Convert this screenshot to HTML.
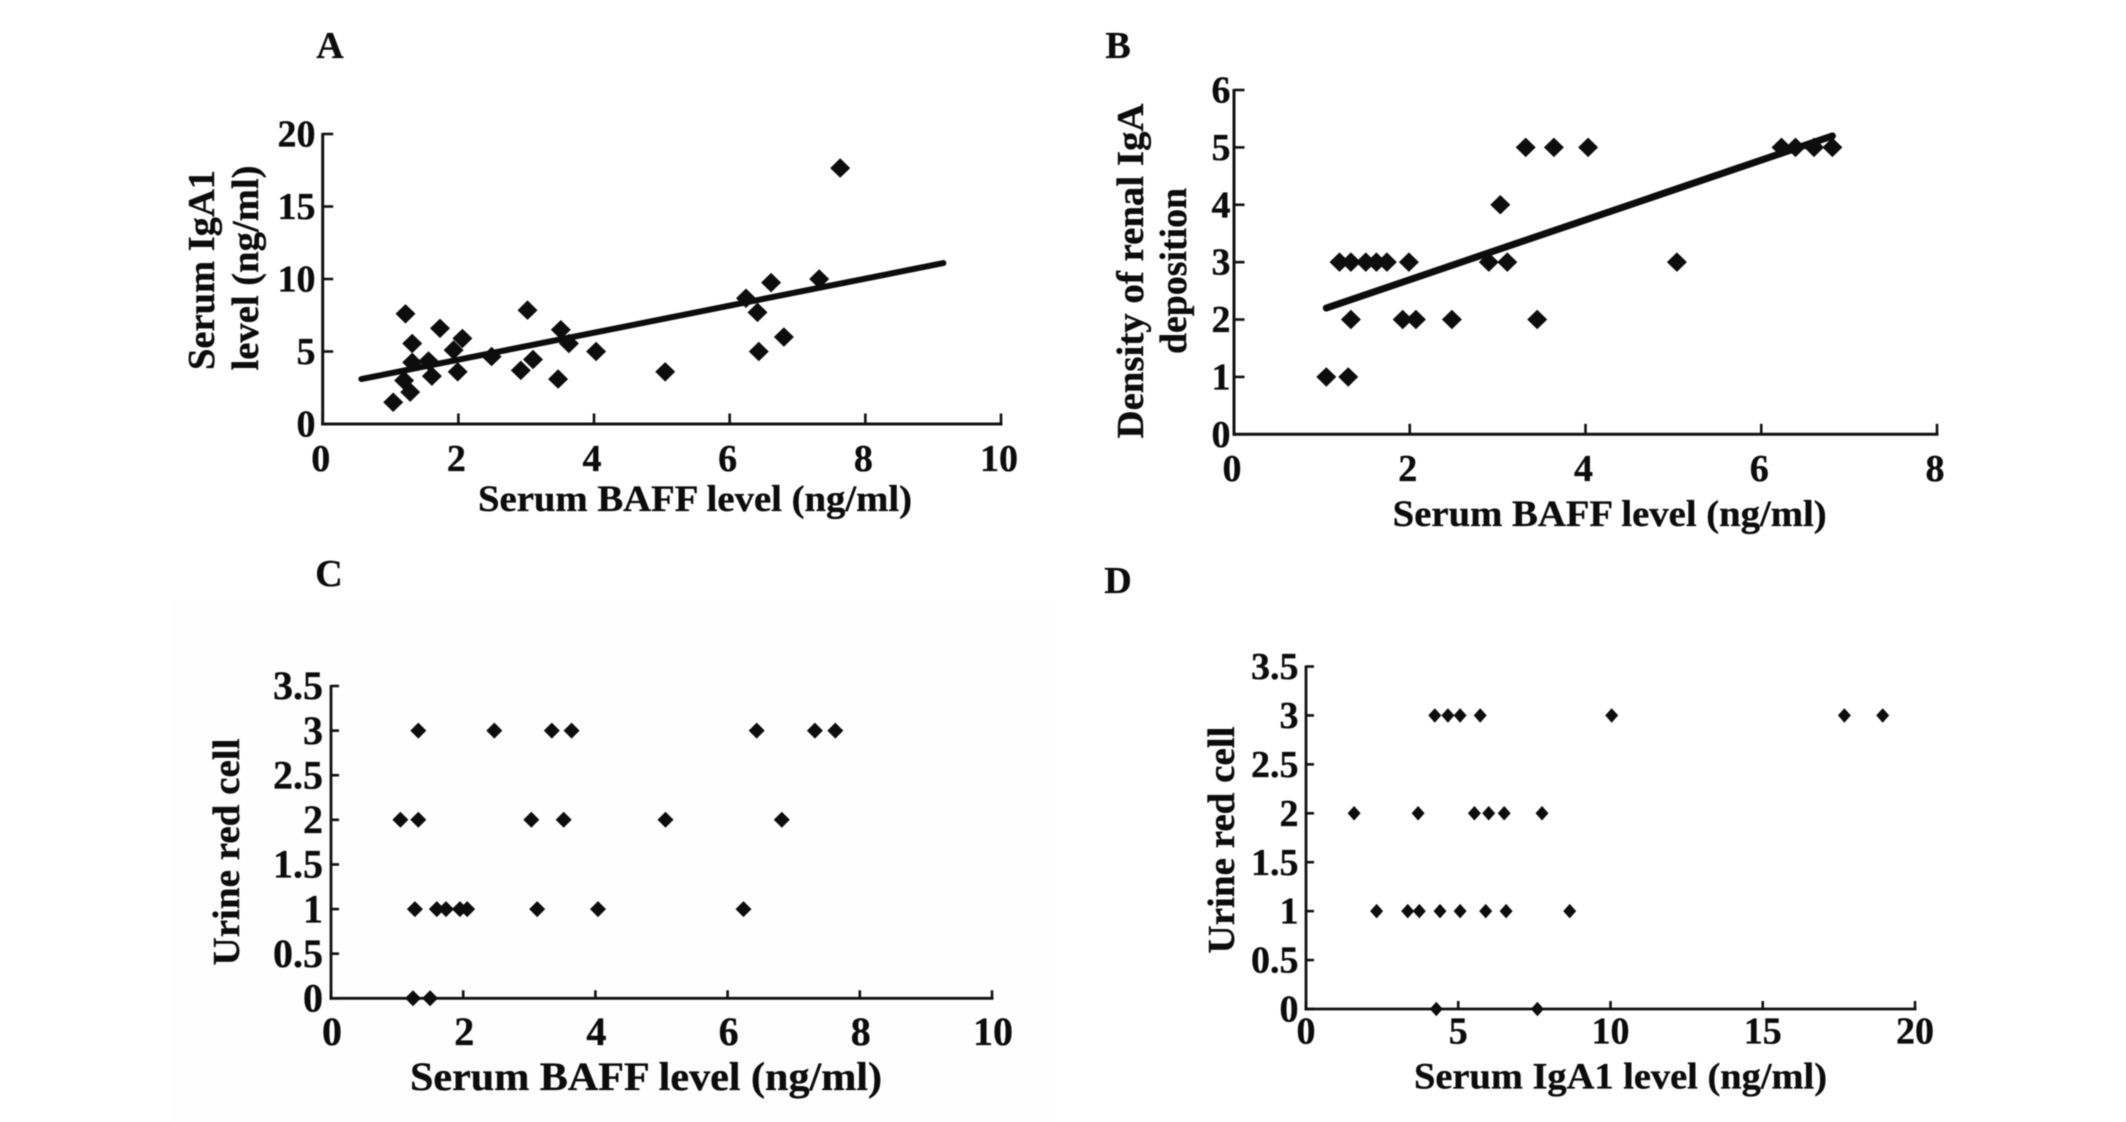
<!DOCTYPE html>
<html lang="en">
<head>
<meta charset="utf-8">
<title>Serum BAFF correlations</title>
<style>
html,body{margin:0;padding:0;background:#fff;}
svg{display:block;filter:blur(0.4px);}
text{font-family:"Liberation Serif",serif;font-weight:bold;fill:#0c0c0c;stroke:#0c0c0c;stroke-width:0.35px;}
</style>
</head>
<body>
<svg id="figure" xmlns="http://www.w3.org/2000/svg" width="2126" height="1122" viewBox="0 0 2126 1122">
  <rect width="2126" height="1122" fill="#ffffff"/>
  <rect x="170" y="600" width="880" height="522" fill="#fefefe"/>

  <text x="330" y="58" font-size="38" text-anchor="middle">A</text>
  <text x="1118" y="58" font-size="38" text-anchor="middle">B</text>
  <text x="329" y="586" font-size="38" text-anchor="middle">C</text>
  <text x="1118" y="593" font-size="38" text-anchor="middle">D</text>

  <text x="478" y="511" font-size="37" textLength="434" lengthAdjust="spacingAndGlyphs">Serum BAFF level (ng/ml)</text>
  <text transform="translate(214,270) rotate(-90)" font-size="38" text-anchor="middle" textLength="200" lengthAdjust="spacingAndGlyphs">Serum IgA1</text>
  <text transform="translate(258,268) rotate(-90)" font-size="38" text-anchor="middle" textLength="205" lengthAdjust="spacingAndGlyphs">level (ng/ml)</text>

  <text x="1392.7" y="526" font-size="37" textLength="434" lengthAdjust="spacingAndGlyphs">Serum BAFF level (ng/ml)</text>
  <text transform="translate(1143,271) rotate(-90)" font-size="38" text-anchor="middle" textLength="335" lengthAdjust="spacingAndGlyphs">Density of renal IgA</text>
  <text transform="translate(1186,271) rotate(-90)" font-size="38" text-anchor="middle" textLength="166" lengthAdjust="spacingAndGlyphs">deposition</text>

  <text x="410" y="1090" font-size="40" textLength="472" lengthAdjust="spacingAndGlyphs">Serum BAFF level (ng/ml)</text>
  <text transform="translate(239,852) rotate(-90)" font-size="38" text-anchor="middle" textLength="227" lengthAdjust="spacingAndGlyphs">Urine red cell</text>

  <text x="1414" y="1088.5" font-size="37" textLength="413" lengthAdjust="spacingAndGlyphs">Serum IgA1 level (ng/ml)</text>
  <text transform="translate(1234,840) rotate(-90)" font-size="38" text-anchor="middle" textLength="227" lengthAdjust="spacingAndGlyphs">Urine red cell</text>
</svg>
<script>
// Panel A data
const panelAXTicks = [0, 2, 4, 6, 8, 10];
const panelAYTicks = [0, 5, 10, 15, 20];
const panelAXValues = [1.04, 1.22, 1.2, 1.29, 1.32, 1.32, 1.56, 1.61, 1.73, 1.93, 1.99, 2.06, 2.49, 2.92, 3.02, 3.1, 3.47, 3.51, 3.63, 4.03, 5.05, 6.24, 6.41, 6.43, 6.61, 6.8, 7.32, 7.63];
const panelAYValues = [1.5, 7.6, 3.0, 2.2, 5.55, 4.25, 4.35, 3.3, 6.6, 5.1, 3.6, 5.9, 4.65, 3.7, 7.85, 4.45, 3.1, 6.5, 5.55, 5.0, 3.6, 8.67, 7.7, 5.0, 9.75, 6.0, 10, 17.65];
const panelATrendX = [0.57, 9.15];
const panelATrendY = [3.1, 11.1];

// Panel B data
const panelBXTicks = [0, 2, 4, 6, 8];
const panelBYTicks = [0, 1, 2, 3, 4, 5, 6];
const panelBXValues = [3.32, 3.64, 4.03, 6.23, 6.39, 6.6, 6.81, 3.03, 1.2, 1.33, 1.5, 1.62, 1.74, 1.99, 2.9, 3.11, 5.04, 1.33, 1.92, 2.07, 2.48, 3.45, 1.05, 1.3];
const panelBYValues = [5, 5, 5, 5, 5, 5, 5, 4, 3, 3, 3, 3, 3, 3, 3, 3, 3, 2, 2, 2, 2, 2, 1, 1];
const panelBTrendX = [1.05, 6.81];
const panelBTrendY = [2.2, 5.2];

// Panel C data
const panelCXTicks = [0, 2, 4, 6, 8, 10];
const panelCYTicks = [0, 0.5, 1, 1.5, 2, 2.5, 3, 3.5];
const panelCXValues = [1.32, 2.47, 3.34, 3.64, 6.44, 7.32, 7.63, 1.05, 1.32, 3.03, 3.52, 5.06, 6.82, 1.27, 1.6, 1.74, 1.95, 2.06, 3.12, 4.04, 6.24, 1.24, 1.5];
const panelCYValues = [3, 3, 3, 3, 3, 3, 3, 2, 2, 2, 2, 2, 2, 1, 1, 1, 1, 1, 1, 1, 1, 0, 0];

// Panel D data
const panelDXTicks = [0, 5, 10, 15, 20];
const panelDYTicks = [0, 0.5, 1, 1.5, 2, 2.5, 3, 3.5];
const panelDXValues = [4.23, 4.66, 5.06, 5.72, 10.04, 17.68, 18.94, 1.58, 3.68, 5.53, 6.0, 6.51, 7.75, 2.32, 3.34, 3.72, 4.4, 5.06, 5.9, 6.57, 8.66, 4.28, 7.6];
const panelDYValues = [3, 3, 3, 3, 3, 3, 3, 2, 2, 2, 2, 2, 2, 1, 1, 1, 1, 1, 1, 1, 1, 0, 0];

const SVG_NS = 'http://www.w3.org/2000/svg';
const figure = document.getElementById('figure');

function make(tag, attrs) {
  const el = document.createElementNS(SVG_NS, tag);
  for (const key in attrs) {
    el.setAttribute(key, attrs[key]);
  }
  figure.appendChild(el);
  return el;
}

function drawPanel(id, frame, xTicks, yTicks, xs, ys, trendX, trendY) {
  const xMax = xTicks[xTicks.length - 1];
  const yMax = yTicks[yTicks.length - 1];
  const sx = v => frame.left + (v / xMax) * (frame.right - frame.left);
  const sy = v => frame.bottom - (v / yMax) * (frame.bottom - frame.top);

  const yAxis = make('line', {x1: sx(0), y1: sy(0) + 1.5, x2: sx(0), y2: sy(yMax) - 1, stroke: '#111', 'stroke-width': frame.axisWidth});
  
  

  const xAxis = make('line', {x1: sx(0) - 1.5, y1: sy(0), x2: sx(xMax) + 1.5, y2: sy(0), stroke: '#111', 'stroke-width': frame.axisWidth});
  
  

  xTicks.forEach(t => {
    const tick = make('line', {x1: sx(t), y1: sy(0), x2: sx(t), y2: sy(0) - frame.tick, stroke: '#111', 'stroke-width': 2.6});
    
    
    const label = make('text', {x: sx(t) + frame.xLabelDx, y: frame.xLabelY, 'font-size': frame.xFont, 'text-anchor': 'middle'});
    label.textContent = String(t);
    
    
  });

  yTicks.forEach(t => {
    const tick = make('line', {x1: sx(0), y1: sy(t), x2: sx(0) + frame.tick, y2: sy(t), stroke: '#111', 'stroke-width': 2.6});
    
    
    const label = make('text', {x: frame.yLabelX, y: sy(t) + frame.yFont * 0.33, 'font-size': frame.yFont, 'text-anchor': 'end'});
    label.textContent = String(t);
    
    
  });

  if (trendX) {
    const trend = make('line', {x1: sx(trendX[0]), y1: sy(trendY[0]), x2: sx(trendX[1]), y2: sy(trendY[1]), stroke: '#0c0c0c', 'stroke-width': frame.trendWidth, 'stroke-linecap': 'round'});
    
    
  }

  xs.forEach((xv, i) => {
    const cx = sx(xv);
    const cy = sy(ys[i]);
    const w = frame.markW / 2;
    const h = frame.markH / 2;
    const pts = [cx, cy - h, cx + w, cy, cx, cy + h, cx - w, cy].map(n => n.toFixed(1));
    const mark = make('polygon', {points: pts.join(' '), fill: '#0d0d0d'});
    
    
  });
}

drawPanel('panel-a',
  {left: 322.7, right: 1001, top: 134, bottom: 424, tick: 10.5, axisWidth: 3, xLabelDx: -2, xLabelY: 471, xFont: 38, yLabelX: 315.5, yFont: 38, markW: 20, markH: 19.5, trendWidth: 6},
  panelAXTicks, panelAYTicks, panelAXValues, panelAYValues, panelATrendX, panelATrendY);

drawPanel('panel-b',
  {left: 1234, right: 1937, top: 90, bottom: 434.3, tick: 10.5, axisWidth: 3, xLabelDx: -2, xLabelY: 481, xFont: 38, yLabelX: 1230.5, yFont: 38, markW: 20, markH: 19.5, trendWidth: 7},
  panelBXTicks, panelBYTicks, panelBXValues, panelBYValues, panelBTrendX, panelBTrendY);

drawPanel('panel-c',
  {left: 331, right: 992, top: 686, bottom: 998.3, tick: 8, axisWidth: 2.8, xLabelDx: 1, xLabelY: 1045, xFont: 40, yLabelX: 323, yFont: 40, markW: 16, markH: 16, trendWidth: 0},
  panelCXTicks, panelCYTicks, panelCXValues, panelCYValues, null, null);

drawPanel('panel-d',
  {left: 1306, right: 1915, top: 666.5, bottom: 1009, tick: 8, axisWidth: 2.8, xLabelDx: 0, xLabelY: 1043.5, xFont: 38, yLabelX: 1298.5, yFont: 38, markW: 13, markH: 14.5, trendWidth: 0},
  panelDXTicks, panelDYTicks, panelDXValues, panelDYValues, null, null);
</script>
</body>
</html>
